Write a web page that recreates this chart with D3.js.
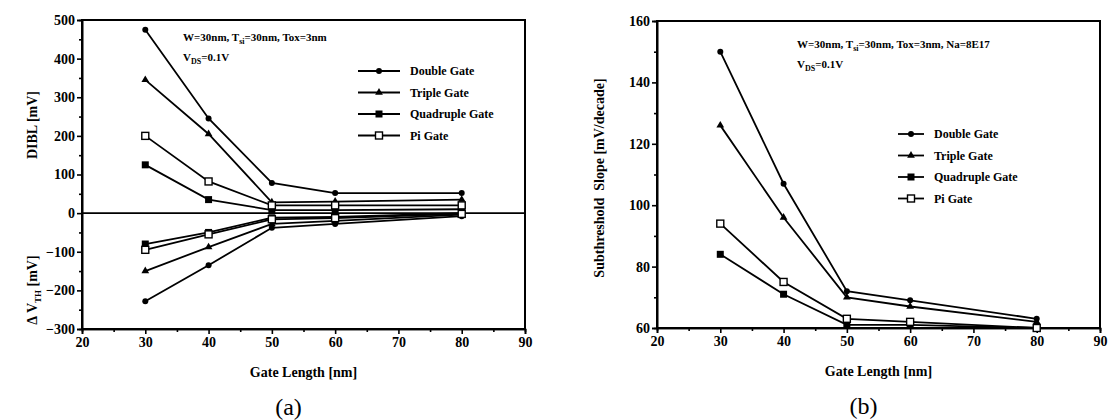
<!DOCTYPE html>
<meta charset="utf-8">
<style>
body { margin: 0; background: #fff; }
svg { font-family: "Liberation Serif", "Times New Roman", serif; }
.axis path, .axis line { stroke: #000; stroke-width: 1.6px; }
.axis text { font-size: 14px; font-weight: bold; fill: #000; }
.lbl { font-weight: bold; font-size: 14px; }
.note { font-weight: bold; font-size: 11px; }
.leg { font-weight: bold; font-size: 12px; }
.series { fill: none; stroke: #000; stroke-width: 1.8px; }
</style>
<body></body>
<script src="https://d3js.org/d3.v7.min.js"></script>
<script>
// gate lengths (nm)
var gateLen = [30, 40, 50, 60, 80];
var names = ["Double Gate", "Triple Gate", "Quadruple Gate", "Pi Gate"];
var markers = ["circle", "triangle", "square", "open"];

// (a) DIBL [mV]
var diblDouble = [475, 245, 78, 52, 52];
var diblTriple = [345, 205, 28, 30, 35];
var diblQuad   = [125, 35, 8, 8, 10];
var diblPi     = [200, 82, 20, 20, 20];
// (a) delta Vth [mV]
var dvthDouble = [-228, -135, -38, -28, -8];
var dvthTriple = [-150, -88, -28, -20, -4];
var dvthQuad   = [-80, -50, -12, -10, 0];
var dvthPi     = [-95, -55, -16, -13, -2];

// (b) subthreshold slope [mV/decade]
var ssDouble = [150, 107, 72, 69, 63];
var ssTriple = [126, 96, 70, 67, 62];
var ssQuad   = [84, 71, 61, 61, 60];
var ssPi     = [94, 75, 63, 62, 60];

var serif = "Liberation Serif, Times New Roman, serif";

var svg = d3.select("body").append("svg")
    .attr("width", 1109).attr("height", 420);

function drawMarker(g, type, x, y) {
  if (type === "circle") {
    g.append("circle").attr("cx", x).attr("cy", y).attr("r", 3).attr("fill", "#000");
  } else if (type === "triangle") {
    g.append("path").attr("d", d3.symbol(d3.symbolTriangle, 26)())
      .attr("transform", "translate(" + x + "," + y + ")").attr("fill", "#000");
  } else if (type === "square") {
    g.append("rect").attr("x", x - 3.5).attr("y", y - 3.5).attr("width", 7).attr("height", 7).attr("fill", "#000");
  } else {
    g.append("rect").attr("x", x - 3.5).attr("y", y - 3.5).attr("width", 7).attr("height", 7)
      .attr("fill", "#fff").attr("stroke", "#000").attr("stroke-width", 1.4);
  }
}

function panel(opt) {
  var x = d3.scaleLinear().domain([20, 90]).range([opt.left, opt.right]);
  var y = d3.scaleLinear().domain(opt.ydom).range([opt.bottom, opt.top]);
  var g = svg.append("g");

  // minor ticks
  g.append("g").attr("class", "axis").attr("transform", "translate(0," + opt.bottom + ")")
    .call(d3.axisBottom(x).tickValues(d3.range(25, 90, 10)).tickSize(3).tickFormat(""));
  g.append("g").attr("class", "axis").attr("transform", "translate(" + opt.left + ",0)")
    .call(d3.axisLeft(y).tickValues(opt.yminor).tickSize(3).tickFormat(""));
  // major ticks
  g.append("g").attr("class", "axis").attr("transform", "translate(0," + opt.bottom + ")")
    .call(d3.axisBottom(x).tickValues(d3.range(20, 91, 10)).tickSize(5).tickPadding(3))
    .attr("font-family", serif);
  g.append("g").attr("class", "axis").attr("transform", "translate(" + opt.left + ",0)")
    .call(d3.axisLeft(y).tickValues(opt.ymajor).tickSize(5).tickPadding(2))
    .attr("font-family", serif);

  // frame
  g.append("rect").attr("x", opt.left).attr("y", opt.top)
    .attr("width", opt.right - opt.left).attr("height", opt.bottom - opt.top)
    .attr("fill", "none").attr("stroke", "#000").attr("stroke-width", 2);

  if (opt.zero) {
    g.append("line").attr("x1", opt.left).attr("x2", opt.right)
      .attr("y1", y(0)).attr("y2", y(0)).attr("stroke", "#000").attr("stroke-width", 1.6);
  }

  var line = d3.line().x(function(d, i) { return x(gateLen[i]); }).y(function(d) { return y(d); });
  opt.series.forEach(function(s) {
    g.append("path").attr("class", "series").attr("d", line(s.vals));
    s.vals.forEach(function(v, i) { drawMarker(g, s.mark, x(gateLen[i]), y(v)); });
  });

  // legend
  names.forEach(function(n, i) {
    var ly = opt.legY + i * opt.legDy;
    g.append("line").attr("x1", opt.legX).attr("x2", opt.legX + opt.legW)
      .attr("y1", ly).attr("y2", ly).attr("stroke", "#000").attr("stroke-width", 1.8);
    drawMarker(g, markers[i], opt.legX + opt.legW / 2, ly);
    g.append("text").attr("class", "leg").attr("x", opt.legX + opt.legW + 10).attr("y", ly + 4).text(n);
  });

  // x label + panel tag
  var cx = (opt.left + opt.right) / 2;
  g.append("text").attr("class", "lbl").attr("x", cx).attr("y", opt.bottom + 48)
    .attr("text-anchor", "middle").text("Gate Length [nm]");
  g.append("text").attr("x", cx - 15).attr("y", opt.bottom + 86)
    .attr("text-anchor", "middle").attr("font-size", 24).text(opt.tag);
  return {x: x, y: y, g: g};
}

var a = panel({
  left: 82, right: 525, top: 20, bottom: 329,
  ydom: [-300, 500], ymajor: d3.range(-300, 501, 100), yminor: d3.range(-250, 500, 100),
  zero: true, tag: "(a)",
  legX: 358, legY: 71, legDy: 21.5, legW: 42,
  series: [
    {vals: diblDouble, mark: "circle"}, {vals: diblTriple, mark: "triangle"},
    {vals: diblQuad, mark: "square"}, {vals: diblPi, mark: "open"},
    {vals: dvthDouble, mark: "circle"}, {vals: dvthTriple, mark: "triangle"},
    {vals: dvthQuad, mark: "square"}, {vals: dvthPi, mark: "open"}
  ]
});

var b = panel({
  left: 657, right: 1100, top: 21, bottom: 328,
  ydom: [60, 160], ymajor: d3.range(60, 161, 20), yminor: d3.range(70, 160, 20),
  zero: false, tag: "(b)",
  legX: 898, legY: 134, legDy: 21.5, legW: 26,
  series: [
    {vals: ssDouble, mark: "circle"}, {vals: ssTriple, mark: "triangle"},
    {vals: ssQuad, mark: "square"}, {vals: ssPi, mark: "open"}
  ]
});

// annotations (a)
var na = a.g.append("text").attr("class", "note").attr("x", 183).attr("y", 41);
na.append("tspan").text("W=30nm, T");
na.append("tspan").attr("font-size", 8).attr("dy", 3).text("si");
na.append("tspan").attr("dy", -3).text("=30nm, Tox=3nm");
var va = a.g.append("text").attr("class", "note").attr("x", 183).attr("y", 61);
va.append("tspan").text("V");
va.append("tspan").attr("font-size", 8).attr("dy", 3).text("DS");
va.append("tspan").attr("dy", -3).text("=0.1V");

// y labels (a)
a.g.append("text").attr("class", "lbl").attr("transform", "translate(37,125) rotate(-90)")
  .attr("text-anchor", "middle").text("DIBL [mV]");
var dv = a.g.append("text").attr("class", "lbl").attr("transform", "translate(37,290) rotate(-90)")
  .attr("text-anchor", "middle");
dv.append("tspan").text("\u0394 V");
dv.append("tspan").attr("font-size", 9).attr("dy", 4).text("TH");
dv.append("tspan").attr("dy", -4).text(" [mV]");

// annotations (b)
var nb = b.g.append("text").attr("class", "note").attr("x", 797).attr("y", 48);
nb.append("tspan").text("W=30nm, T");
nb.append("tspan").attr("font-size", 8).attr("dy", 3).text("si");
nb.append("tspan").attr("dy", -3).text("=30nm, Tox=3nm, Na=8E17");
var vb = b.g.append("text").attr("class", "note").attr("x", 797).attr("y", 68);
vb.append("tspan").text("V");
vb.append("tspan").attr("font-size", 8).attr("dy", 3).text("DS");
vb.append("tspan").attr("dy", -3).text("=0.1V");

b.g.append("text").attr("class", "lbl").attr("transform", "translate(604,178) rotate(-90)")
  .attr("text-anchor", "middle").attr("xml:space", "preserve").text("Subthreshold  Slope [mV/decade]");
</script>
